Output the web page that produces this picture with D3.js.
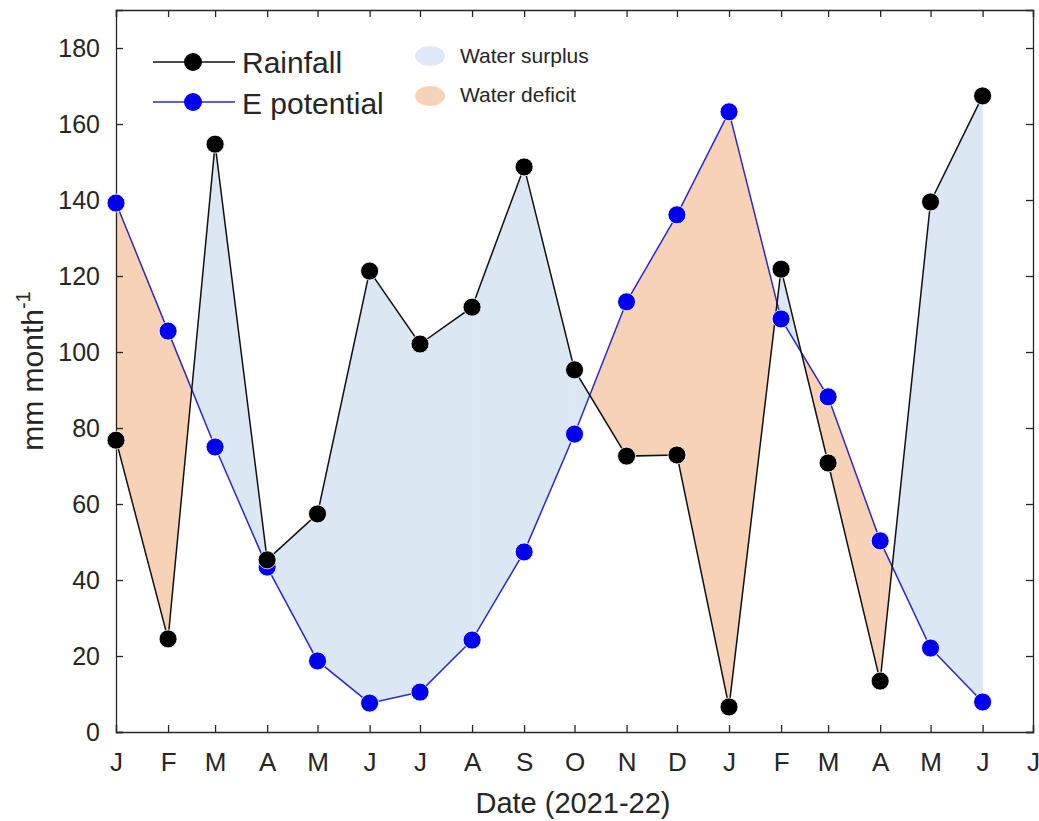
<!DOCTYPE html>
<html>
<head>
<meta charset="utf-8">
<script src="https://cdn.jsdelivr.net/npm/d3@7"></script>
<style>
  body { margin: 0; background: #fff; }
  text { font-family: "Liberation Sans", Arial, sans-serif; fill: #262626; }
</style>
</head>
<body>
<div id="graph"></div>
<script>
// meses (primer dia de cada mes, ene 2021 - jun 2022)
const months = ["2021-01","2021-02","2021-03","2021-04","2021-05","2021-06","2021-07","2021-08","2021-09",
                "2021-10","2021-11","2021-12","2022-01","2022-02","2022-03","2022-04","2022-05","2022-06"];
const rainfall = [76.8, 24.5, 154.7, 45.3, 57.4, 121.3, 102.1, 111.8, 148.7,
                  95.3, 72.6, 72.9, 6.6, 121.8, 70.8, 13.4, 139.5, 167.4];
const ePotential = [139.2, 105.5, 75.0, 43.4, 18.7, 7.6, 10.5, 24.2, 47.4,
                    78.4, 113.2, 136.1, 163.2, 108.7, 88.2, 50.3, 22.1, 7.9];
const tickLetters = ["J","F","M","A","M","J","J","A","S","O","N","D","J","F","M","A","M","J","J"];
const yTicks = [0, 20, 40, 60, 80, 100, 120, 140, 160, 180];

const parse = d3.timeParse("%Y-%m");
const dates = months.map(parse);
const data = dates.map((d, i) => ({date: d, rain: rainfall[i], ep: ePotential[i]}));

const width = 1039, height = 821;
const margin = {top: 10, right: 6, bottom: 89, left: 116};
const svg = d3.select("#graph").append("svg")
    .attr("width", width)
    .attr("height", height);

const x = d3.scaleTime()
    .domain([parse("2021-01"), parse("2022-07")])
    .range([margin.left, width - margin.right]);
const y = d3.scaleLinear()
    .domain([0, 190])
    .range([height - margin.bottom, margin.top]);

const tickDates = d3.timeMonth.range(parse("2021-01"), parse("2022-08"));

// Relleno entre curvas: superavit (azul) y deficit (naranja)
const surplusColor = "#dbe7f3", deficitColor = "#f7d2b6";
const polys = [];
for (let i = 0; i < data.length - 1; i++) {
  const a = data[i], b = data[i + 1];
  const d0 = a.rain - a.ep, d1 = b.rain - b.ep;
  if (d0 * d1 >= 0) {
    polys.push({sign: (d0 + d1) >= 0, pts: [[a.date, a.rain], [b.date, b.rain], [b.date, b.ep], [a.date, a.ep]]});
  } else {
    const t = d0 / (d0 - d1);
    const xc = new Date(+a.date + t * (b.date - a.date));
    const yc = a.rain + t * (b.rain - a.rain);
    polys.push({sign: d0 > 0, pts: [[a.date, a.rain], [xc, yc], [a.date, a.ep]]});
    polys.push({sign: d1 > 0, pts: [[xc, yc], [b.date, b.rain], [b.date, b.ep]]});
  }
}
svg.append("g").selectAll("path")
  .data(polys)
  .enter()
  .append("path")
  .attr("d", p => "M" + p.pts.map(q => [x(q[0]), y(q[1])].join(",")).join("L") + "Z")
  .attr("fill", p => p.sign ? surplusColor : deficitColor)
  .attr("stroke", p => p.sign ? surplusColor : deficitColor)
  .attr("stroke-width", 0.5);

// Ejes (caja estilo MATLAB)
const axisColor = "#262626";
const xb = d3.axisBottom(x).tickValues(tickDates).tickSize(-7).tickFormat((d, i) => tickLetters[i]).tickPadding(21);
const xt = d3.axisTop(x).tickValues(tickDates).tickSize(-7).tickFormat("");
const yl = d3.axisLeft(y).tickValues(yTicks).tickSize(-7).tickPadding(16);
const yr = d3.axisRight(y).tickValues(yTicks).tickSize(-7).tickFormat("");

function styleAxis(g, size) {
  g.select(".domain").attr("stroke", axisColor).attr("stroke-width", 1.3);
  g.selectAll(".tick line").attr("stroke", axisColor).attr("stroke-width", 1.3);
  g.selectAll(".tick text").style("font-size", size + "px").attr("fill", axisColor);
}
svg.append("g").attr("transform", `translate(0,${height - margin.bottom})`).call(xb).call(styleAxis, 26);
svg.append("g").attr("transform", `translate(0,${margin.top})`).call(xt).call(styleAxis, 26);
svg.append("g").attr("transform", `translate(${margin.left},0)`).call(yl).call(styleAxis, 25);
svg.append("g").attr("transform", `translate(${width - margin.right},0)`).call(yr).call(styleAxis, 25);

// Lineas
const rainLine = d3.line().x(d => x(d.date)).y(d => y(d.rain));
const epLine = d3.line().x(d => x(d.date)).y(d => y(d.ep));
svg.append("path").datum(data).attr("d", epLine)
  .attr("fill", "none").attr("stroke", "#2a2acc").attr("stroke-width", 1.5);
svg.append("path").datum(data).attr("d", rainLine)
  .attr("fill", "none").attr("stroke", "#111").attr("stroke-width", 1.5);

// Marcadores
svg.append("g").selectAll("circle").data(data).enter().append("circle")
  .attr("cx", d => x(d.date)).attr("cy", d => y(d.ep)).attr("r", 9)
  .attr("fill", "#0000f0").attr("stroke", "#fff").attr("stroke-width", 0.8);
svg.append("g").selectAll("circle").data(data).enter().append("circle")
  .attr("cx", d => x(d.date)).attr("cy", d => y(d.rain)).attr("r", 9)
  .attr("fill", "#000").attr("stroke", "#fff").attr("stroke-width", 0.8);

// Titulos de ejes
svg.append("text")
  .attr("x", 573).attr("y", 813)
  .attr("text-anchor", "middle").style("font-size", "29px")
  .text("Date (2021-22)");
const yLab = svg.append("text")
  .attr("transform", `translate(43,${(y(0) + y(190)) / 2}) rotate(-90)`)
  .attr("text-anchor", "middle").style("font-size", "30px");
yLab.append("tspan").text("mm month");
yLab.append("tspan").attr("dy", -13).style("font-size", "20px").text("-1");

// Leyenda de series
const legend = svg.append("g");
[{label: "Rainfall", color: "#111", mk: "#000", yy: 62, ty: 73},
 {label: "E potential", color: "#2a2acc", mk: "#0000f0", yy: 102, ty: 114}].forEach(s => {
  legend.append("line").attr("x1", 153).attr("x2", 235).attr("y1", s.yy).attr("y2", s.yy)
    .attr("stroke", s.color).attr("stroke-width", 1.5);
  legend.append("circle").attr("cx", 193).attr("cy", s.yy).attr("r", 9).attr("fill", s.mk);
  legend.append("text").attr("x", 242).attr("y", s.ty).style("font-size", "30px").text(s.label);
});

// Leyenda de areas
[{label: "Water surplus", color: "#dfe9f5", yy: 56, ty: 63},
 {label: "Water deficit", color: deficitColor, yy: 96, ty: 102}].forEach(s => {
  legend.append("ellipse").attr("cx", 430).attr("cy", s.yy).attr("rx", 15).attr("ry", 10).attr("fill", s.color);
  legend.append("text").attr("x", 460).attr("y", s.ty).style("font-size", "21px").text(s.label);
});
</script>
</body>
</html>
